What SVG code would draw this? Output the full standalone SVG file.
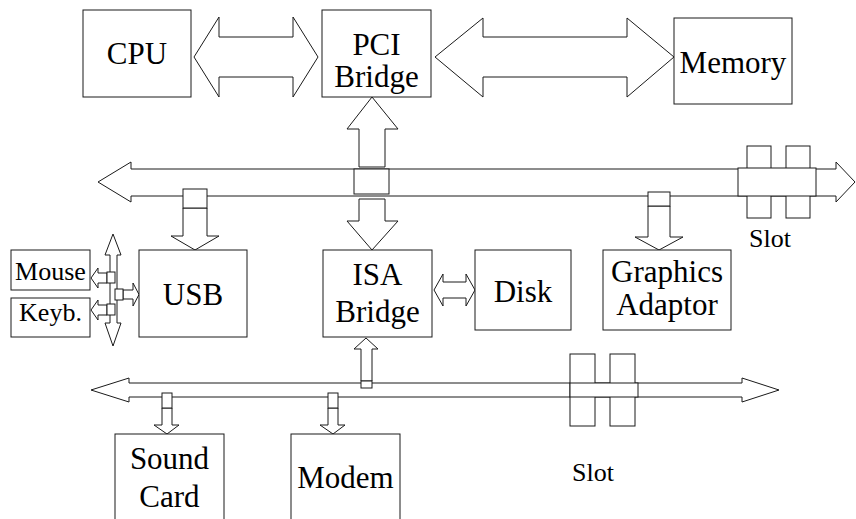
<svg xmlns="http://www.w3.org/2000/svg" width="856" height="519" viewBox="0 0 856 519">
<style>
.s{fill:#fff;stroke:#1a1a1a;stroke-width:1}
.t{font-family:"Liberation Serif","Times New Roman",serif;font-size:31px;fill:#000;text-anchor:middle}
.m{font-family:"Liberation Serif","Times New Roman",serif;font-size:26px;fill:#000;text-anchor:middle}
.sl{font-family:"Liberation Serif","Times New Roman",serif;font-size:26px;fill:#000}
</style>
<rect width="856" height="519" fill="#fff"/>
<g id="connectors">
<polygon class="s" points="194,57 219,17 219,37 293,37 293,17 318,57 293,97 293,77 219,77 219,97"/>
<polygon class="s" points="435,57 483,18 483,37 627,37 627,18 674,57 627,97 627,77 483,77 483,97"/>
<polygon class="s" points="98,182 131,162 131,169 836,169 836,162 855,182 836,202 836,196 131,196 131,202"/>
<polygon class="s" points="91,390 129,378 129,383 742,383 742,378 779,390 742,402 742,397 129,397 129,402"/>
<polygon class="s" points="372,97 398,129 385,129 385,167 359,167 359,129 347,129"/>
<rect class="s" x="354" y="169" width="35" height="25"/>
<polygon class="s" points="359,199 385,199 385,221 398,221 372,250 347,221 359,221"/>
<polygon class="s" points="183,208 207,208 207,236 219,236 195,250 171,236 183,236"/>
<rect class="s" x="183" y="189" width="24" height="19"/>
<polygon class="s" points="648,206 670,206 670,237 683,237 659,250 635,237 648,237"/>
<rect class="s" x="648" y="192" width="22" height="14"/>
<polygon class="s" points="113,234 121,255 117,255 117,323 121,323 113,346 105,323 110,323 110,255 105,255"/>
<polygon class="s" points="107,273 98,273 98,268 91,278 98,288 98,283 107,283"/>
<rect class="s" x="107" y="272" width="8" height="11"/>
<polygon class="s" points="107,305 98,305 98,300 91,310 98,320 98,315 107,315"/>
<rect class="s" x="107" y="304" width="8" height="11"/>
<polygon class="s" points="123,290 133,290 133,283 139,294.5 133,306 133,299 123,299"/>
<rect class="s" x="115" y="289" width="8" height="11"/>
<polygon class="s" points="434,290 443,274 443,282 466,282 466,274 475,290 466,306 466,298 443,298 443,306"/>
<polygon class="s" points="366,338 378,349 372,349 372,381 361,381 361,349 354,349"/>
<rect class="s" x="361" y="381" width="11" height="7"/>
<polygon class="s" points="162,408 172,408 172,425 179,425 167,434 154,425 162,425"/>
<rect class="s" x="162" y="393" width="10" height="15"/>
<polygon class="s" points="328,408 338,408 338,425 345,425 333,434 320,425 328,425"/>
<rect class="s" x="328" y="393" width="10" height="15"/>
</g>
<g id="slots">
<rect class="s" x="747" y="146" width="24" height="72"/>
<rect class="s" x="786" y="146" width="24" height="72"/>
<rect class="s" x="738" y="168" width="78" height="28"/>
<text class="sl" x="749" y="247">Slot</text>
<rect class="s" x="570" y="354" width="25" height="72"/>
<rect class="s" x="610" y="354" width="25" height="72"/>
<rect class="s" x="570" y="383" width="68" height="14"/>
<text class="sl" x="572" y="481">Slot</text>
</g>
<g id="cpu">
<rect class="s" x="83" y="10" width="108" height="87"/>
<text class="t" x="137" y="64">CPU</text>
</g>
<g id="pci-bridge">
<rect class="s" x="322" y="10" width="109" height="87"/>
<text class="t" x="376.5" y="55">PCI</text>
<text class="t" x="376.5" y="87">Bridge</text>
</g>
<g id="memory">
<rect class="s" x="674" y="18" width="118" height="86"/>
<text class="t" x="733" y="73">Memory</text>
</g>
<g id="usb">
<rect class="s" x="139" y="250" width="108" height="87"/>
<text class="t" x="193" y="305">USB</text>
</g>
<g id="mouse">
<rect class="s" x="11" y="250" width="79" height="40"/>
<text class="m" x="50.5" y="280">Mouse</text>
</g>
<g id="keyboard">
<rect class="s" x="11" y="298" width="79" height="39"/>
<text class="m" x="50.5" y="321">Keyb.</text>
</g>
<g id="isa-bridge">
<rect class="s" x="323" y="250" width="109" height="87"/>
<text class="t" x="377.5" y="285">ISA</text>
<text class="t" x="377.5" y="322">Bridge</text>
</g>
<g id="disk">
<rect class="s" x="475" y="250" width="96" height="80"/>
<text class="t" x="523" y="302">Disk</text>
</g>
<g id="graphics-adaptor">
<rect class="s" x="603" y="250" width="128" height="80"/>
<text class="t" x="667" y="282">Graphics</text>
<text class="t" x="667" y="315">Adaptor</text>
</g>
<g id="sound-card">
<rect class="s" x="115" y="434" width="109" height="100"/>
<text class="t" x="169.5" y="469">Sound</text>
<text class="t" x="169.5" y="507">Card</text>
</g>
<g id="modem">
<rect class="s" x="291" y="434" width="109" height="100"/>
<text class="t" x="345.5" y="488">Modem</text>
</g>
</svg>
